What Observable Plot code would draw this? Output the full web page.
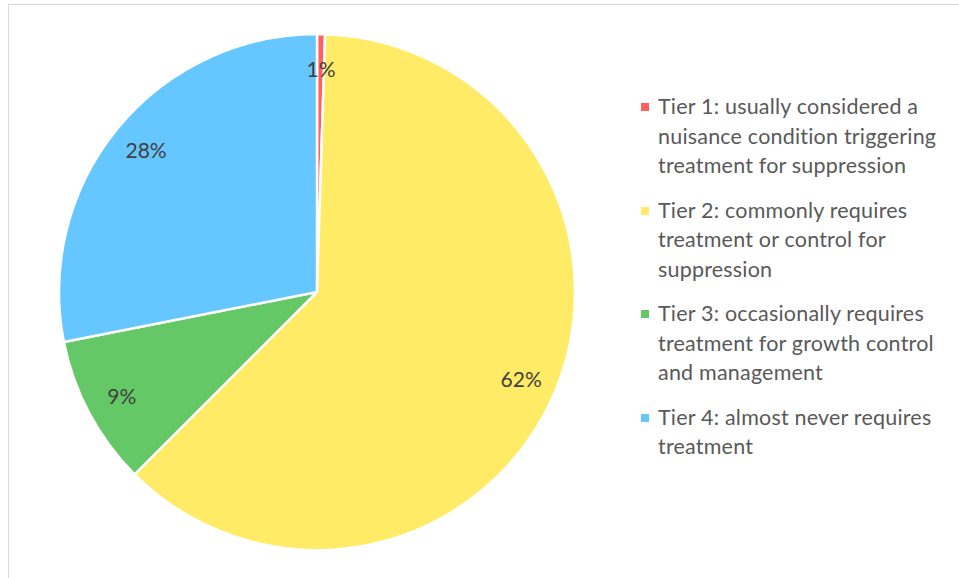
<!DOCTYPE html>
<html><head><meta charset="utf-8">
<script src="https://cdn.jsdelivr.net/npm/d3@7"></script>
<script src="https://cdn.jsdelivr.net/npm/@observablehq/plot@0.6"></script>
<style>
body{margin:0;background:#fff;}
#wrap{position:relative;width:959px;height:578px;overflow:hidden;font-family:Lato,sans-serif;}
#frame{position:absolute;left:8px;top:4px;width:980px;height:600px;border:1.5px solid #d9d9d9;box-sizing:border-box;}
#chart{position:absolute;left:0;top:0;}
#legend{position:absolute;left:640px;top:92px;width:318px;}
.item{position:relative;padding-left:18px;font-size:21.5px;letter-spacing:0.2px;line-height:29.5px;color:#595959;margin-bottom:15px;white-space:pre-line;}
.sw{position:absolute;left:1px;top:11px;width:8px;height:8px;}
</style></head>
<body>
<div id="wrap"><div id="frame"></div><div id="chart"></div><div id="legend"></div></div>
<script>
const tiers = [
  "Tier 1: usually considered a\nnuisance condition triggering\ntreatment for suppression",
  "Tier 2: commonly requires\ntreatment or control for\nsuppression",
  "Tier 3: occasionally requires\ntreatment for growth control\nand management",
  "Tier 4: almost never requires\ntreatment"
];
const shares = [0.5, 62, 9.4, 28.1];
const shareLabels = ["1%", "62%", "9%", "28%"];
const tierColors = ["#ff5f5f", "#ffeb66", "#64c866", "#66c6ff"];

const data = tiers.map((t, i) => ({tier: t, share: shares[i], label: shareLabels[i]}));
const arcs = d3.pie().value(d => d.share).sort(null)(data);
const labelR = 0.86;
arcs.forEach(a => {
  const m = (a.startAngle + a.endAngle) / 2;
  a.lx = labelR * Math.sin(m);
  a.ly = labelR * Math.cos(m);
});
const color = d3.scaleOrdinal(tiers, tierColors);

function pieMark(index, scales) {
  const cx = scales.x(0), cy = scales.y(0), r = scales.x(1) - scales.x(0);
  const g = d3.create("svg:g").attr("transform", `translate(${cx},${cy})`);
  const arc = d3.arc().innerRadius(0).outerRadius(r);
  g.selectAll("path").data(arcs).join("path")
    .attr("d", arc)
    .attr("fill", d => color(d.data.tier))
    .attr("stroke", "#fff")
    .attr("stroke-width", 2.5)
    .attr("stroke-linejoin", "round");
  return g.node();
}

const chart = Plot.plot({
  width: 959, height: 578, margin: 0,
  style: {background: "transparent", overflow: "visible"},
  x: {domain: [-1, 1], range: [59, 575], axis: null},
  y: {domain: [-1, 1], range: [550, 34], axis: null},
  marks: [
    pieMark,
    Plot.text(arcs, {x: "lx", y: "ly", text: d => d.data.label, fontSize: 21, fill: "#404040", fontFamily: "Lato, sans-serif"})
  ]
});
document.getElementById("chart").appendChild(chart);

const legend = d3.select("#legend");
tiers.forEach(t => {
  const it = legend.append("div").attr("class", "item");
  it.append("div").attr("class", "sw").style("background", color(t));
  it.append("span").text(t);
});
</script>
</body></html>
